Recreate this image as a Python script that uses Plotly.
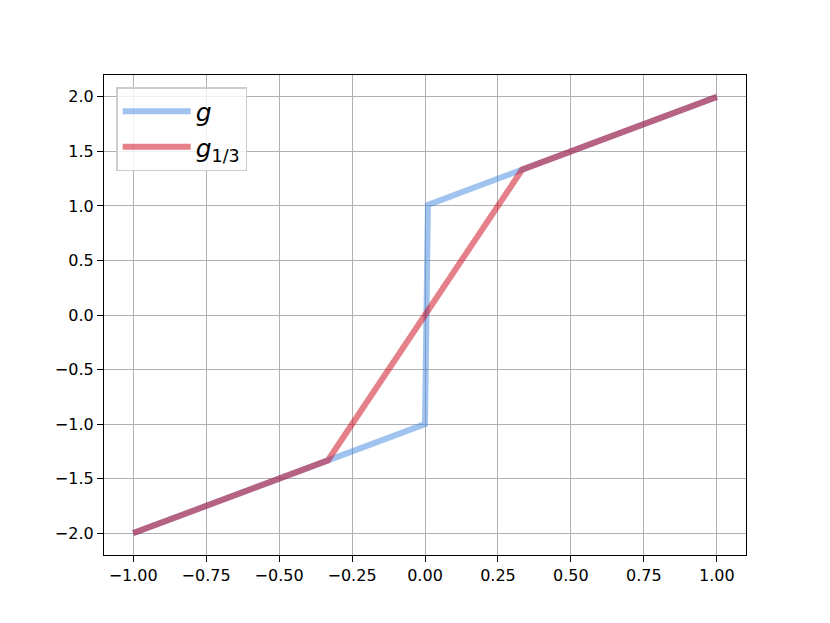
import plotly.graph_objects as go

# data
g_x = [-1.0, 0.0, 0.01, 0.333, 1.0]
g_y = [-2.0, -1.0, 1.01, 1.333, 2.0]
g13_x = [-1.0, -0.333, 0.333, 1.0]
g13_y = [-2.0, -1.333, 1.333, 2.0]
x_ticks = [-1.0, -0.75, -0.5, -0.25, 0.0, 0.25, 0.5, 0.75, 1.0]
x_labels = ["\u22121.00", "\u22120.75", "\u22120.50", "\u22120.25", "0.00", "0.25", "0.50", "0.75", "1.00"]
y_ticks = [-2.0, -1.5, -1.0, -0.5, 0.0, 0.5, 1.0, 1.5, 2.0]
y_labels = ["\u22122.0", "\u22121.5", "\u22121.0", "\u22120.5", "0.0", "0.5", "1.0", "1.5", "2.0"]

fig = go.Figure()
fig.add_trace(go.Scatter(x=g_x, y=g_y, mode="lines", name="<i>g</i>",
                         line=dict(color="rgba(65,137,223,0.5)", width=6)))
fig.add_trace(go.Scatter(x=g13_x, y=g13_y, mode="lines", name="<i>g</i><sub>1/3</sub>",
                         line=dict(color="rgba(203,0,21,0.5)", width=6)))

axis_common = dict(showgrid=True, gridcolor="#b0b0b0", gridwidth=1.2, zeroline=False,
                   showline=True, linecolor="black", linewidth=1.2, mirror=True,
                   ticks="outside", ticklen=6, tickcolor="black", tickwidth=1.2,
                   tickfont=dict(family="DejaVu Sans", size=16, color="black"))
fig.update_xaxes(range=[-1.1, 1.1], tickvals=x_ticks, ticktext=x_labels, **axis_common)
fig.update_yaxes(range=[-2.2, 2.2], tickvals=y_ticks, ticktext=y_labels, **axis_common)

fig.update_layout(
    width=822, height=615,
    margin=dict(l=96, r=84, t=67, b=68),
    paper_bgcolor="white", plot_bgcolor="white",
    font=dict(family="DejaVu Sans", color="black"),
    legend=dict(x=0.019, y=0.975, xanchor="left", yanchor="top",
                bgcolor="rgba(255,255,255,0.8)", bordercolor="#cccccc", borderwidth=1.5,
                font=dict(family="DejaVu Sans", size=25, color="black"),
                itemwidth=68, tracegroupgap=0),
    showlegend=True,
)

fig.write_html("out.html")
